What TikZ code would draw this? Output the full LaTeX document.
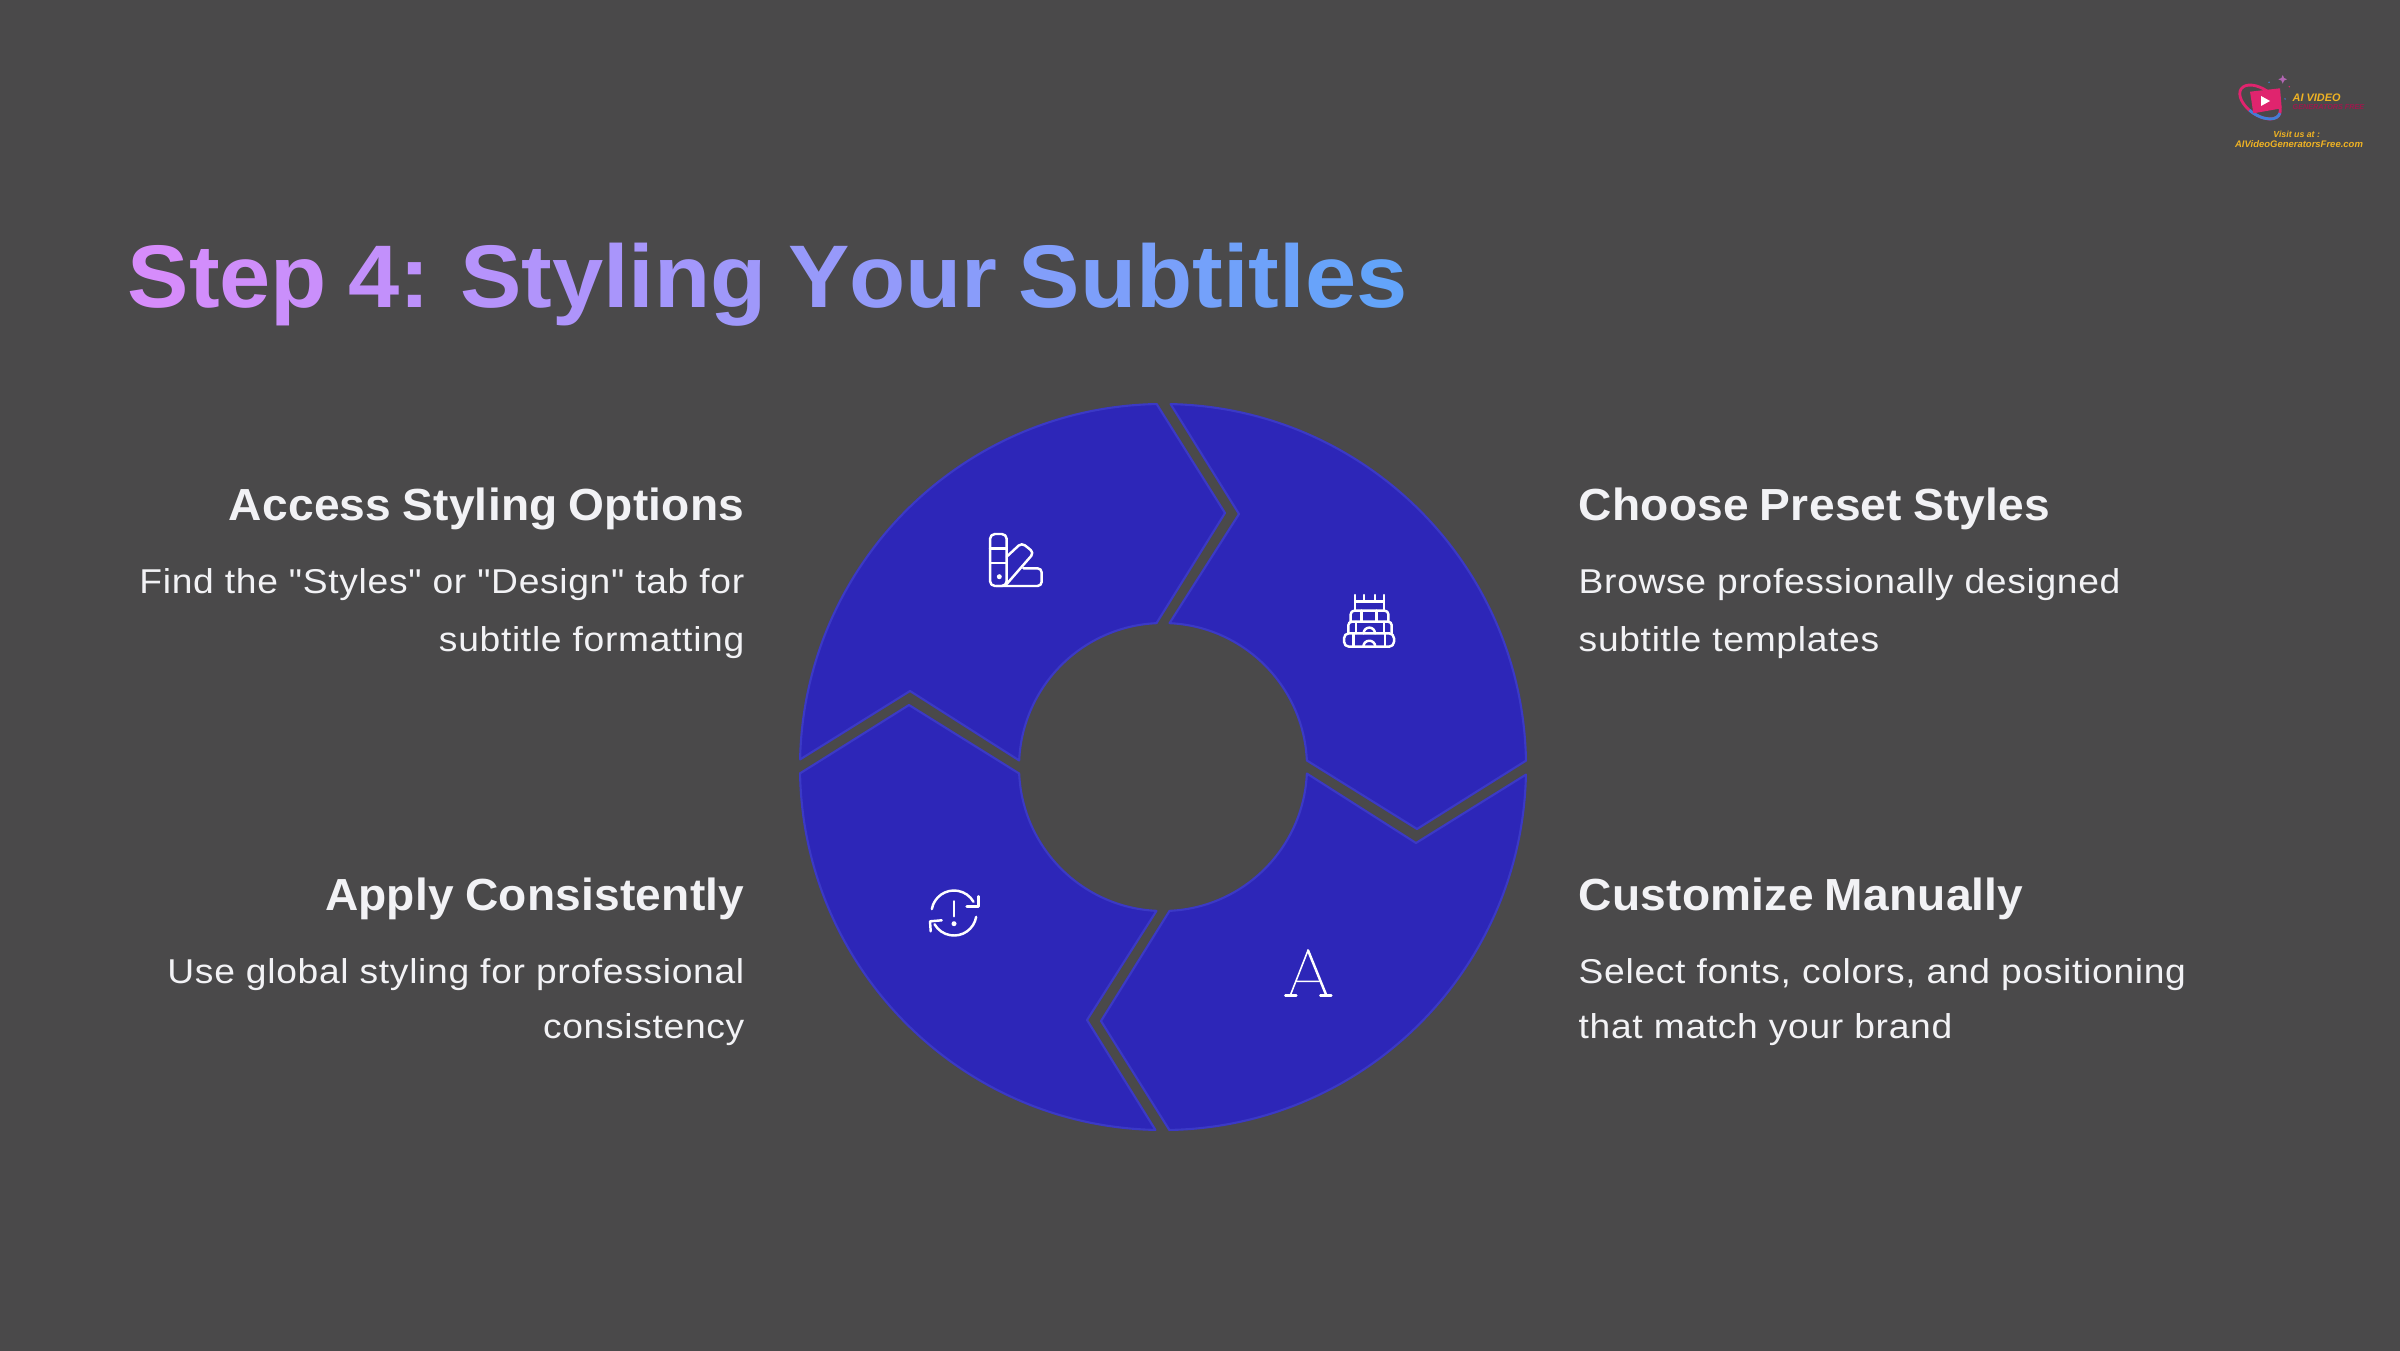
\documentclass[tikz,border=0pt]{standalone}
\usepackage{fontspec}
\newfontfamily\titlefont{Liberation Sans}[LetterSpace=1.0,FakeStretch=1.035,WordSpace=0.8]
\newfontfamily\headfont{Liberation Sans}[LetterSpace=0.5,FakeStretch=1.025,WordSpace=0.85]
\newfontfamily\bodyfont{Liberation Sans}[LetterSpace=2.0,FakeStretch=1.08]
\newfontfamily\logofont{Liberation Sans}
\definecolor{bgcol}{HTML}{4A494A}
\definecolor{segfill}{HTML}{2D26B8}
\definecolor{segedge}{HTML}{3B39C6}
\definecolor{titlestart}{HTML}{D68CFB}
\definecolor{titleend}{HTML}{60A5FA}
\definecolor{textcol}{HTML}{F2F2F5}
\definecolor{logoyellow}{HTML}{F0B323}
\definecolor{logopink}{HTML}{E0246E}
\definecolor{logoblue}{HTML}{3F7FD8}
\newcommand{\tl}[2]{\textcolor{titleend!#1!titlestart}{#2}}
\tikzset{
    segment/.style={fill=segfill,draw=segedge,line width=0.6pt,line join=round},
    iconline/.style={draw=white,line width=0.7pt,line cap=round,line join=round},
    heading/.style={text=textcol,inner sep=0pt,font=\headfont\fontsize{12.8}{16}\selectfont\bfseries},
    bodytext/.style={text=textcol,inner sep=0pt,font=\bodyfont\fontsize{9.8}{16.5}\selectfont},
    logotext/.style={text=logoyellow,inner sep=0pt,font=\logofont\fontsize{2.5}{3}\selectfont\bfseries\itshape}
}
\begin{document}
\begin{tikzpicture}
    \def \cx{11.63}
    \def \cy{5.83}
    \def \rout{3.63}
    \def \rin{1.44}
    \useasboundingbox (0,0) rectangle (24,13.5);
    \fill[bgcol] (-0.1,-0.1) rectangle (24.1,13.6);
    % title
    \node[anchor=base west,inner sep=0pt,font=\titlefont\fontsize{25.3}{30}\selectfont\bfseries] (title) at (1.27,10.43) {\tl{0}{S}\tl{3}{t}\tl{6}{e}\tl{10}{p} \tl{17}{4}\tl{21}{:} \tl{27}{S}\tl{31}{t}\tl{34}{y}\tl{38}{l}\tl{40}{i}\tl{43}{n}\tl{47}{g} \tl{53}{Y}\tl{57}{o}\tl{61}{u}\tl{65}{r} \tl{71}{S}\tl{75}{u}\tl{79}{b}\tl{83}{t}\tl{86}{i}\tl{88}{t}\tl{90}{l}\tl{93}{e}\tl{97}{s}};
    % ring of four pieces
    \foreach \ang in {0,90,180,270} {
        \begin{scope}[shift={(\cx,\cy)},rotate=\ang]
            \draw[segment] (91:\rout) -- (0.62,2.54) -- (92.6:\rin)
                arc[start angle=92.6,end angle=177.4,radius=\rin]
                -- (-2.53,0.76) -- (178.8:\rout)
                arc[start angle=178.8,end angle=91,radius=\rout] -- cycle;
        \end{scope}
    }
    % palette
    \begin{scope}[shift={(10.16,7.90)},iconline]
        \draw[rounded corners=1.4pt] (-0.26,-0.26) rectangle (-0.093,0.26);
        \draw (-0.26,0.117) -- (-0.093,0.117) (-0.26,-0.03) -- (-0.093,-0.03);
        \fill[white] (-0.167,-0.167) circle (0.025);
        \draw[rounded corners=1.2pt] (-0.093,0.033) -- (0.057,0.173) -- (0.18,0.073) -- (-0.093,-0.24);
        \draw[rounded corners=1.2pt] (0.073,-0.083) -- (0.257,-0.083) -- (0.257,-0.26) -- (-0.2,-0.26);
    \end{scope}
    % temple
    \begin{scope}[shift={(13.69,7.29)},iconline]
        \draw (-0.14,0.103) -- (-0.14,0.26) -- (-0.14,0.193) -- (0.15,0.193) -- (0.15,0.26) -- (0.15,0.103);
        \draw (-0.05,0.193) -- (-0.05,0.26) (0.06,0.193) -- (0.06,0.26);
        \draw[rounded corners=1pt] (-0.183,-0.007) -- (-0.183,0.103) -- (0.193,0.103) -- (0.193,-0.007);
        \draw (-0.073,0.103) -- (-0.073,-0.007) (0.077,0.103) -- (0.077,-0.007);
        \draw[rounded corners=1pt] (-0.207,-0.123) -- (-0.207,-0.007) -- (0.227,-0.007) -- (0.227,-0.123);
        \draw (-0.13,-0.007) -- (-0.13,-0.123) (0.15,-0.007) -- (0.15,-0.123);
        \draw[rounded corners=1.4pt] (-0.25,-0.257) rectangle (0.25,-0.123);
        \draw (-0.157,-0.123) -- (-0.157,-0.257) (0.16,-0.123) -- (0.16,-0.257);
        \draw (0.06,-0.123) arc[start angle=0,end angle=180,radius=0.057];
        \draw (0.063,-0.257) arc[start angle=0,end angle=180,radius=0.06];
    \end{scope}
    % refresh with mark
    \begin{scope}[shift={(9.54,4.37)},iconline]
        \draw (170:0.225) arc[start angle=170,end angle=30,radius=0.225];
        \draw (0.127,0.067) -- (0.243,0.067) -- (0.243,0.167);
        \draw (-10:0.225) arc[start angle=-10,end angle=-150,radius=0.225];
        \draw (-0.123,-0.073) -- (-0.24,-0.083) -- (-0.233,-0.183);
        \draw (0,0.117) -- (0,-0.033);
        \fill[white] (0,-0.107) circle (0.025);
    \end{scope}
    % letter A
    \begin{scope}[shift={(13.08,3.77)},iconline]
        \draw[line width=0.45pt] (0,0.227) -- (-0.177,-0.223) (-0.11,-0.083) -- (0.113,-0.083);
        \draw (0,0.227) -- (0.183,-0.223);
        \draw (-0.227,-0.223) -- (-0.117,-0.223) (0.123,-0.223) -- (0.233,-0.223);
    \end{scope}
    % texts left
    \node[heading,anchor=base east] (accesshead) at (7.45,8.30) {Access Styling Options};
    \node[bodytext,anchor=north east,align=right] (accessbody) at (7.45,7.825) {Find the "Styles" or "Design" tab for\\subtitle formatting};
    \node[heading,anchor=base east] (applyhead) at (7.45,4.40) {Apply Consistently};
    \node[bodytext,anchor=north east,align=right] (applybody) at (7.45,3.925) {Use global styling for professional\\[-0.8pt]consistency};
    % texts right
    \node[heading,anchor=base west] (choosehead) at (15.78,8.30) {Choose Preset Styles};
    \node[bodytext,anchor=north west,align=left] (choosebody) at (15.78,7.825) {Browse professionally designed\\subtitle templates};
    \node[heading,anchor=base west] (customhead) at (15.78,4.40) {Customize Manually};
    \node[bodytext,anchor=north west,align=left] (custombody) at (15.78,3.925) {Select fonts, colors, and positioning\\[-0.8pt]that match your brand};
    % logo
    \begin{scope}[rotate around={-35:(22.60,12.48)}]
        \draw[logopink,line width=0.8pt] (22.60,12.48) ellipse (0.23 and 0.13);
        \draw[logoblue,line width=0.8pt] (22.60,12.48) ++(-100:0.23 and 0.13) arc[start angle=-100,end angle=10,x radius=0.23,y radius=0.13];
    \end{scope}
    \fill[logopink] (22.5,12.583) -- (22.8,12.617) -- (22.817,12.417) -- (22.533,12.367) -- cycle;
    \fill[white] (22.61,12.44) -- (22.61,12.54) -- (22.70,12.49) -- cycle;
    \fill[violet!60!white] (22.827,12.75) -- (22.84,12.72) -- (22.87,12.707) -- (22.84,12.694) -- (22.827,12.664) -- (22.814,12.694) -- (22.784,12.707) -- (22.814,12.72) -- cycle;
    \fill[logoblue] (22.69,12.677) circle (0.008) (22.85,12.51) circle (0.008);
    \fill[logopink] (22.893,12.633) circle (0.008);
    \node[logotext,anchor=west,font=\logofont\fontsize{3.1}{3}\selectfont\bfseries\itshape] (logoname) at (22.92,12.527) {AI VIDEO};
    \node[logotext,anchor=west,text=logopink!70!black,font=\logofont\fontsize{2.05}{3}\selectfont\bfseries\itshape] (logosub) at (22.92,12.433) {GENERATORS FREE};
    \node[logotext] (logovisit) at (22.967,12.16) {Visit us at :};
    \node[logotext,font=\logofont\fontsize{2.7}{3}\selectfont\bfseries\itshape] (logourl) at (22.99,12.057) {AIVideoGeneratorsFree.com};
\end{tikzpicture}
\end{document}
